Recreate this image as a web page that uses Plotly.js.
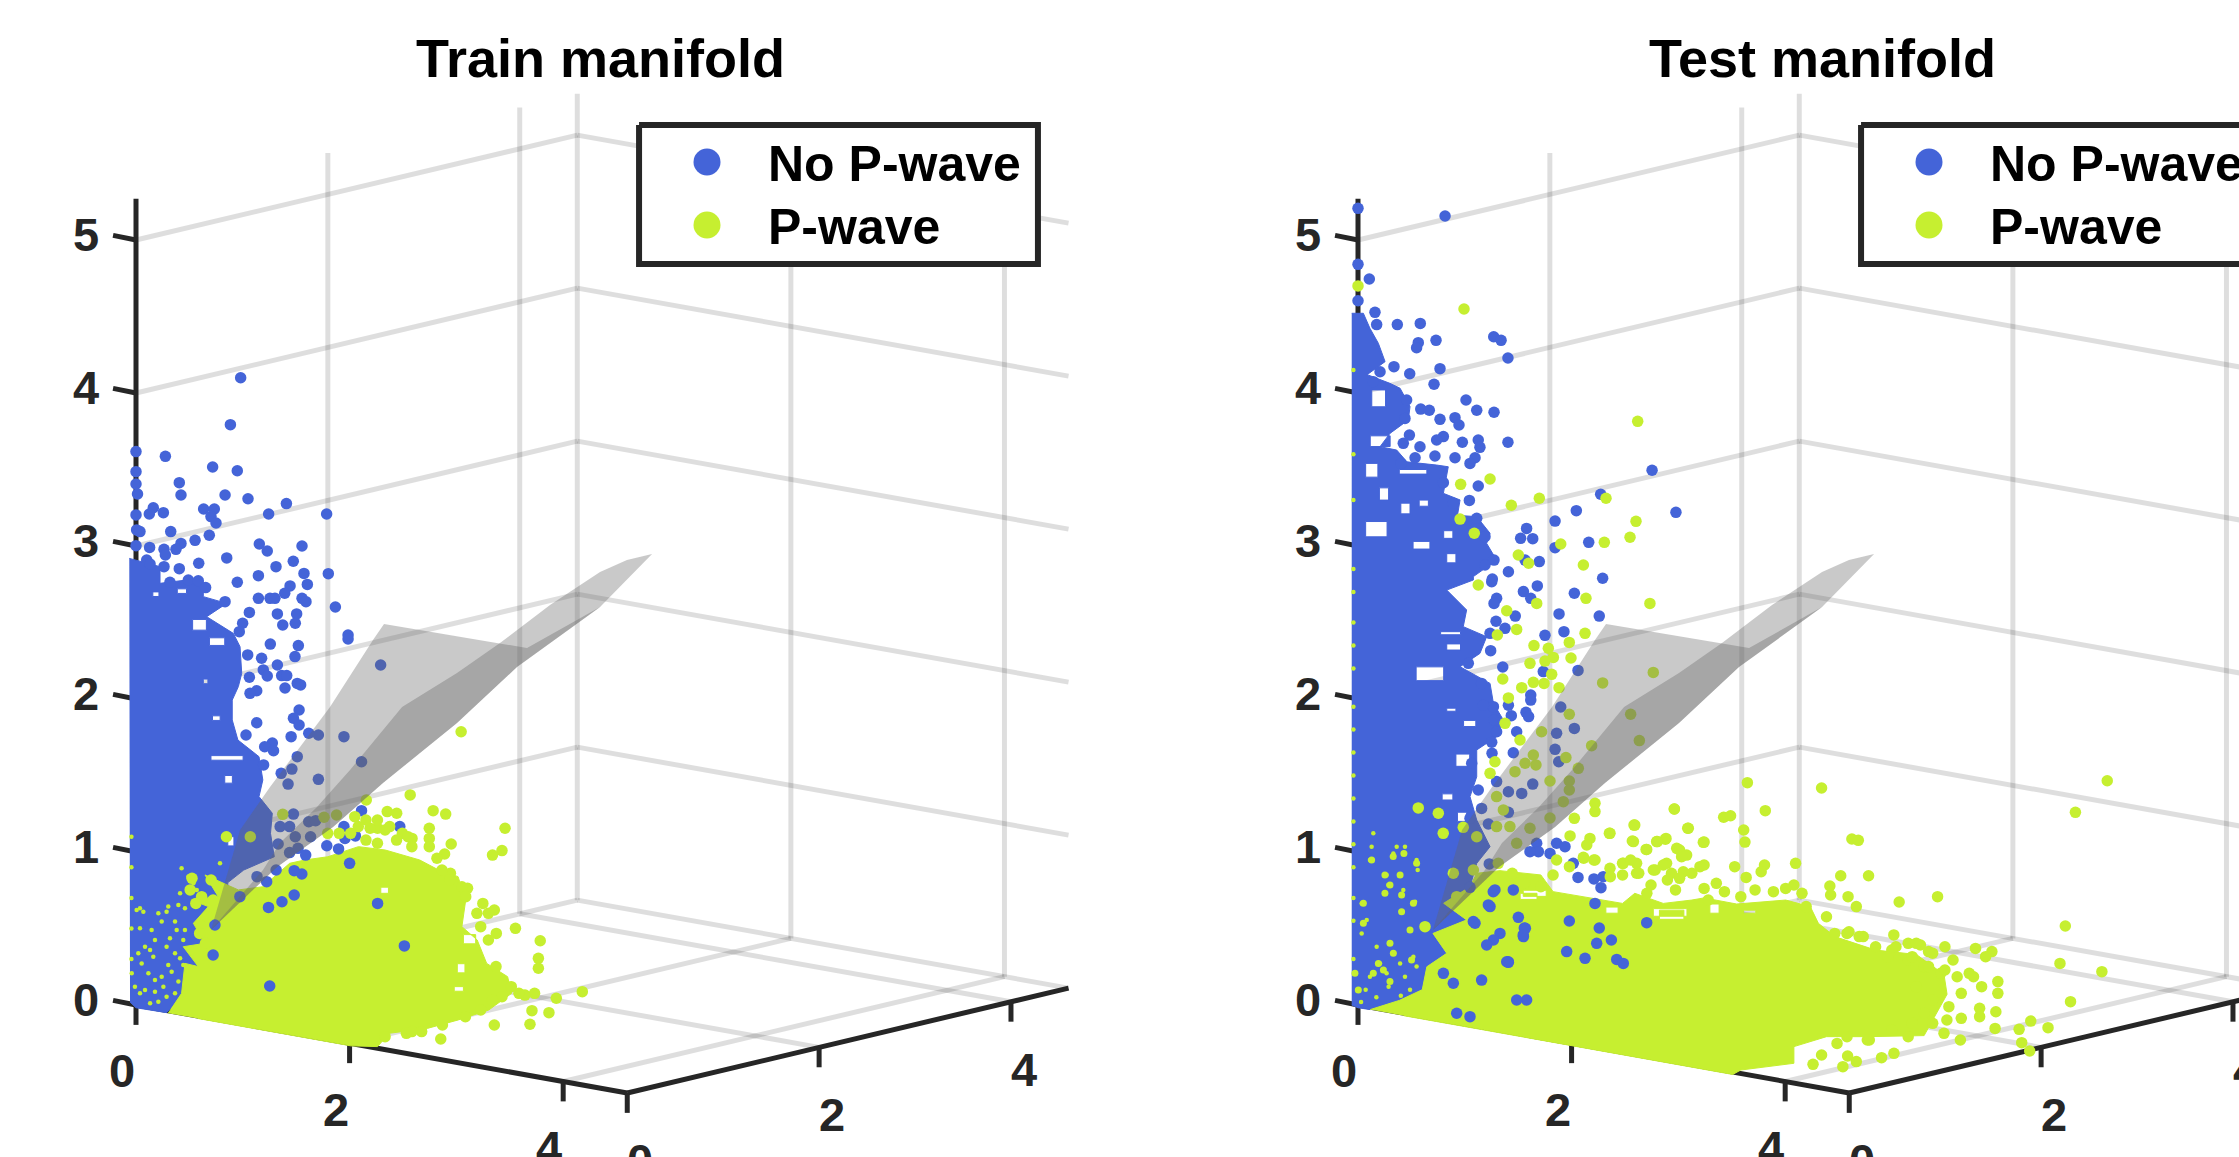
<!DOCTYPE html>
<html><head><meta charset="utf-8">
<script src="https://cdn.plot.ly/plotly-3.0.1.min.js"></script>
<style>html,body{margin:0;padding:0;background:#fff;overflow:hidden;width:2239px;height:1157px}#g{width:2400px;height:1300px}</style>
</head><body><div id="g"></div>
<script>
// All scatter values as [horizontal, vertical] in the plane of the view,
// measured in z-axis units from the foot of the vertical axis.
const titles = ["Train manifold", "Test manifold"];
const legendNames = ["No P-wave", "P-wave"];
const xTicks = [0, 2, 4], yTicks = [0, 2, 4], zTicks = [0, 1, 2, 3, 4, 5];
const blueColor = "#4464d8", greenColor = "#c6ef30";

const trainBlueRegion = [[-.044,2.919],[.157,2.865],[.157,2.756],[.331,2.778],[.44,2.767],[.44,2.669],[.593,2.625],[.462,2.538],[.636,2.429],[.68,2.342],[.691,2.168],[.669,2.081],[.629,1.993],[.629,1.863],[.666,1.732],[.804,1.623],[.829,1.471],[.804,1.362],[.891,1.253],[.879,1.122],[.904,.969],[.704,.882],[.6,.8],[.6,.6],[.55,.4],[.5,.25],[.35,.1],[.2,-.05],[0,-.018],[-.039,.02]];
const trainBlueGaps = [[.27,2.72,.33,2.69],[.37,2.52,.46,2.45],[.48,2.4,.58,2.35],[.11,2.7,.15,2.67],[.49,1.63,.7,1.6],[.58,1.5,.63,1.45],[.5,1.89,.55,1.86],[.44,2.13,.47,2.1],[.6,1.1,.64,1.04]];
const trainGreenRegion = [[.211,-.054],[.298,.076],[.32,.272],[.407,.251],[.309,.381],[.451,.403],[.375,.534],[.473,.643],[.364,.686],[.538,.708],[.451,.85],[.669,.752],[.829,.773],[1.004,.926],[1.104,.948],[1.254,.969],[1.454,1.035],[1.629,1.013],[1.854,.948],[1.979,.882],[2.105,.839],[2.155,.686],[2.13,.512],[2.23,.425],[2.292,.272],[2.429,.185],[2.455,.076],[2.305,-.033],[2.105,-.098],[1.904,-.153],[1.654,-.185],[1.579,-.272],[1.404,-.267],[.904,-.178],[.629,-.129],[.404,-.088]];
const trainGreenGaps = [[2.1,.27,2.15,.21],[1.6,.77,1.65,.73],[2.08,.12,2.14,.09],[2.14,.46,2.22,.4]];
const trainBluePoints = [[.684,4.1],[.617,3.793],[.192,3.586],[0,3.617],[0,3.486],[0,3.405],[.01,3.34],[.501,3.516],[.662,3.492],[.283,3.414],[.294,3.333],[.582,3.333],[.732,3.309],[.983,3.277],[.113,3.25],[.179,3.218],[.087,3.209],[.442,3.242],[.512,3.242],[.49,3.192],[.523,3.15],[.867,3.209],[1.246,3.209],[0,3.203],[.004,3.105],[.227,3.094],[.026,3.094],[.479,3.07],[.386,3.037],[.294,3.017],[.261,2.978],[.089,2.991],[.183,2.978],[.192,2.941],[0,3.002],[.806,3.013],[.858,2.967],[1.085,3],[.593,2.922],[.41,2.887],[.283,2.852],[.07,2.908],[.092,2.882],[.183,2.865],[1.028,2.9],[.915,2.865],[.8,2.806],[1.098,2.821],[1.257,2.819],[.662,2.763],[1.12,2.749],[1.007,2.739],[.972,2.691],[.8,2.658],[.876,2.658],[.908,2.658],[1.085,2.658],[1.111,2.636],[1.303,2.601],[.924,2.556],[1.05,2.556],[1.041,2.495],[.959,2.484],[.741,2.566],[.697,2.495],[.675,2.44],[1.386,2.418],[1.386,2.392],[.878,2.359],[1.061,2.349],[1.599,2.222],[1.039,2.277],[.924,2.222],[.821,2.266],[.73,2.288],[.832,2.19],[.858,2.15],[.952,2.153],[.985,2.153],[.741,2.142],[.974,2.072],[1.054,2.102],[1.076,2.092],[.789,2.054],[.745,2.037],[.342,2.778],[.407,2.773],[.222,2.763],[.455,2.728],[.582,2.636],
[1.066,1.928],[1.029,1.874],[1.066,1.83],[.789,1.845],[.719,1.765],[1.014,1.754],[1.129,1.776],[1.192,1.765],[1.359,1.754],[.891,1.712],[.841,1.688],[.899,1.662],[1.054,1.623],[.834,1.569],[1.019,1.542],[.949,1.514],[1.474,1.59],[1.192,1.475],[.994,1.444],[1.474,1.27],[1.029,1.248],[1.724,1.166],[1.359,1.166],[.942,1.166],[1.004,1.166],[1.129,1.198],[1.174,1.205],[1.041,1.1],[1.141,1.1],[.929,1.052],[1.004,.996],[1.059,1.024],[1.109,.98],[1.247,1.041],[1.324,1.02],[1.366,1.089],[1.434,1.105],[1.396,.926],[.916,.882],[.791,.839],[.854,.806],[1.084,.856],[1.034,.878],[1.579,.664],[1.034,.719],[.954,.675],[.866,.638],[1.754,.386],[.874,.124],[.679,.708],[.516,.523],[.504,.327]];
const trainGreenPoints = [[2.125,1.786],[1.792,1.373],[1.942,1.27],[2.024,1.248],[1.642,1.264],[1.704,1.253],[1.917,1.155],[2.412,1.155],[1.917,1.089],[1.917,1.035],[2.06,1.052],[2.392,1.009],[2.33,.98],[2.017,.987],[1.967,.959],[1.579,1.155],[1.505,1.34],[1.43,1.231],[1.311,1.242],[1.229,1.227],[.959,1.246],[.591,1.1],[.747,1.1],[2.48,.501],[2.642,.42],[2.63,.305],[2.63,.24],[2.917,.087],[2.747,.044],[2.605,.076],[2.699,-.05],[2.588,-.037],[2.575,-.126],[2.342,-.131],[1.992,-.222],[1.867,-.174],[1.767,-.185],[2.542,.065],[2.392,.054],[2.355,.468],[2.267,.664],[2.342,.621],[2.167,.763],[2.055,.861],[1.804,1.089],[1.741,1.122],[1.658,1.166],[1.53,1.155],[.366,.828],[.354,.752],[.429,.708],[.491,.817],[.504,.686],[.391,.664],[.466,.577],[.579,.643],[.416,.468],[.454,.403],
[1.503,1.209],[1.578,1.209],[1.628,1.144],[1.703,1.078],[1.778,1.1],[1.803,1.035],[1.453,1.166],[1.403,1.122],[1.503,1.078],[1.578,1.057],[1.328,1.122],[1.253,1.122],[2,.882],[2.05,.817],[2.13,.773],[2.155,.708],[2.228,.599],[2.303,.599],[2.253,.512],[2.303,.425],[2.353,.251],[2.453,.12],[2.503,.076],[2.33,.033],[2.253,-.033],[2.153,-.076],[2.003,-.131],[1.803,-.174],[1.628,-.207]];
const trainGreenSpecks = [[.146,.599],[.168,.545],[.211,.643],[.2,.61],[.255,.545],[.266,.49],[.32,.49],[.309,.425],[.102,.49],[.124,.425],[.026,.501],[.059,.381],[.092,.359],[.113,.316],[.015,.338],[.037,.272],[.081,.207],[-.028,.207],[-.007,.12],[.026,.076],[.124,.163],[.168,.185],[.211,.261],[.255,.338],[.288,.305],[.309,.261],[.233,.218],[.277,.153],[.179,.12],[.124,.087],[.2,.054],[.146,.022],[.255,.076],[.092,.011],[.059,.098],[.004,.621],[.026,.632],[.048,.61],[.2,.381],[.222,.436],[.277,.654],[.32,.632],[.288,.73],[.298,.893],[.342,.839],[.375,.795],[.397,.752],[.549,.926],[-.03,.3],[-.03,.5],[-.03,.7],[-.03,.9],[-.03,1.1]];
const trainGreenBlobs = [];

const testBlueRegion = [[-.041,4.521],[.035,4.521],[.078,4.423],[.133,4.325],[.177,4.205],[.06,4.12],[.209,4.063],[.275,4.031],[.34,3.911],[.329,3.824],[.209,3.736],[.144,3.649],[.253,3.627],[.32,3.55],[.514,3.529],[.59,3.518],[.558,3.344],[.667,3.301],[.65,3.2],[.776,3.192],[.863,3.083],[.841,3.017],[.906,2.908],[.754,2.8],[.754,2.778],[.58,2.712],[.71,2.582],[.688,2.473],[.841,2.407],[.797,2.298],[.667,2.211],[.863,2.102],[.885,1.972],[.95,1.863],[.906,1.754],[.776,1.667],[.776,1.492],[.732,1.362],[.776,1.209],[.863,1.035],[.776,.926],[.732,.773],[.56,.665],[.71,.556],[.49,.468],[.58,.338],[.45,.25],[.42,.1],[.27,.03],[.08,-.03],[0,-.018],[-.041,0]];
const testBlueGaps = [[.09,4.02,.18,3.91],[.08,3.72,.21,3.65],[.05,3.54,.13,3.45],[.27,3.5,.45,3.47],[.28,3.28,.34,3.21],[.05,3.16,.19,3.06],[.36,3.03,.47,2.98],[.58,2.95,.64,2.89],[.38,2.21,.56,2.12],[.54,2.44,.67,2.42],[.58,2.36,.67,2.32],[.58,1.94,.64,1.92],[.69,1.86,.77,1.82],[.64,1.64,.73,1.56],[.55,1.38,.62,1.34],[.65,1.26,.71,1.2],[.14,3.38,.2,3.3],[.4,3.3,.46,3.26],[.56,3.1,.62,3.05]];
const testGreenRegion = [[.08,-.03],[.27,.03],[.42,.1],[.45,.25],[.58,.338],[.49,.468],[.71,.556],[.56,.665],[.732,.773],[.776,.861],[.928,.878],[1.195,.85],[1.275,.741],[1.595,.686],[1.729,.664],[1.809,.73],[1.995,.664],[2.182,.686],[2.262,.7],[2.475,.66],[2.795,.686],[2.956,.643],[3.009,.534],[3.116,.447],[3.383,.359],[3.65,.33],[3.83,.2],[3.85,.07],[3.78,-.06],[3.7,-.2],[3.329,-.207],[3.062,-.207],[2.849,-.272],[2.849,-.381],[2.502,-.425],[2.449,-.454],[.8,-.159],[.3,-.07]];
const testGreenGaps = [[1.97,.62,2.13,.56],[1.06,.73,1.17,.69],[1.08,.75,1.23,.71],[1.93,.63,2.15,.58],[2.3,.66,2.36,.6],[1.62,.64,1.7,.6],[2.52,.62,2.6,.6]];
const testBluePoints = [[0,5.207],[.569,5.157],[0,4.841],[.074,4.745],[0,4.603],[.111,4.527],[.122,4.447],[.257,4.447],[.407,4.455],[.394,4.329],[.383,4.296],[.51,4.344],[.887,4.368],[.935,4.344],[.98,4.229],[.235,4.172],[.338,4.126],[.536,4.159],[.497,4.057],[.1,4.074],[.144,4.139],[.706,3.954],[.776,3.887],[.889,3.874],[.41,3.895],[.466,3.887],[.536,3.828],[.634,3.839],[.66,3.791],[.682,3.678],[.786,3.693],[.797,3.645],[.98,3.678],[.558,3.715],[.514,3.693],[.503,3.588],[.634,3.577],[.765,3.577],[.732,3.54],[.405,3.649],[.373,3.577],[.336,3.725],[.296,3.671],[.281,3.54],[.318,3.954],[.307,3.834],[.558,3.414],[.786,3.392],[.728,3.298],[.623,3.279],[1.922,3.495],[1.586,3.338],[1.427,3.231],[2.078,3.22],[1.288,3.163],[1.102,3.115],[1.063,3.05],[1.142,3.048],[1.508,3.024],[1.288,2.989],[1.185,2.898],[1.092,2.908],[.983,2.832],[.889,2.908],[.83,2.876],[.83,3.061],[1.599,2.789],[.878,2.784],[.776,3.181],
[.874,2.767],[1.172,2.739],[1.081,2.702],[1.129,2.658],[1.414,2.691],[.906,2.658],[.889,2.625],[1.028,2.542],[1.314,2.556],[1.577,2.542],[.902,2.508],[.961,2.462],[1.346,2.44],[1.222,2.416],[.863,2.429],[.867,2.316],[.721,2.233],[.946,2.209],[1.211,2.179],[1.438,2.187],[.808,2.102],[1.129,2.026],[1.129,1.993],[.983,1.959],[1.325,1.948],[1.098,1.913],[1.115,1.885],[1.002,1.891],[.885,1.95],[.819,1.959],[.889,1.863],[1.414,1.808],[1.037,1.786],[1.298,1.776],[.906,1.786],[.874,1.717],[.876,1.645],[1.015,1.649],[1.288,1.671],[1.312,1.59],[.743,1.58],[1.142,1.444],[1.07,1.383],[.906,1.46],[.786,1.405],[.983,1.394],[.983,1.259],[.852,1.183],[.808,1.285],[.732,1.22],[1.168,1.057],[1.179,1.002],[1.298,1.057],[1.353,1.035],[1.255,.991],[1.124,1.002],[1.407,.926],[1.438,.834],[1.542,.824],[1.603,.839],[1.588,.767],[.858,.922],[.732,.769],[.895,.752],[1.015,.752],[.863,.643],[1.048,.573],[1.381,.549],[.765,.534],[1.577,.503],[1.887,.538],[1.087,.503],[.928,.468],[.885,.425],[.841,.392],[1.081,.447],[1.656,.425],[1.56,.403],[1.364,.349],[1.691,.298],[1.734,.272],[1.484,.305],[.983,.279],[1.549,.664],[1.094,.501],[.982,.283],[.884,.74],[.754,.545],[.852,.654],[1.08,.458],[.808,.163],[.972,.283],[.623,.142],[.558,.207],[1.102,.033],[1.037,.033],[.645,-.054],[.732,-.076]];
const testGreenPoints = [[0,4.7],[.693,4.549],[1.828,3.815],[.671,3.403],[.863,3.438],[1.002,3.266],[1.185,3.312],[1.621,3.312],[.667,3.176],[.76,3.083],[1.817,3.161],[1.778,3.057],[1.61,3.024],[1.325,3.013],[1.048,2.941],[1.115,2.887],[1.473,2.876],
[1.49,2.658],[1.908,2.625],[.786,2.745],[1.168,2.625],[.972,2.577],[1.037,2.455],[1.484,2.429],[1.381,2.37],[1.15,2.349],[1.244,2.332],[.911,2.418],[1.124,2.233],[1.222,2.248],[1.277,2.272],[1.392,2.268],[1.93,2.174],[1.266,2.161],[.946,2.131],[1.146,2.109],[1.216,2.102],[1.599,2.105],[1.07,2.074],[1.314,2.074],[.983,2.007],[1.381,1.9],[1.782,1.9],[.961,1.841],[1.2,1.786],[1.527,1.695],[1.839,1.728],[1.059,1.732],[1.146,1.634],[1.092,1.58],[1.163,1.569],[1.359,1.617],[.895,1.59],[.863,1.514],[1.026,1.525],[1.44,1.547],[1.255,1.464],[1.381,1.464],[1.381,1.405],[1.342,1.329],[1.549,1.318],[1.549,1.264],[2.068,1.281],[1.255,1.222],[1.414,1.22],[1.804,1.176],[2.159,1.155],[1.647,1.122],[1.386,1.105],[1.516,1.089],[1.8,1.068],[2.013,1.089],[1.952,1.068],[2.257,1.063],[1.495,1.046],[1.887,1.017],[2.083,1.024],[2.148,.98],[1.473,.965],[1.549,.948],[1.298,.948],[1.734,.926],[1.821,.926],[2.017,.926],[2.235,.904],[1.647,.893],[1.93,.882],[1.821,.861],[2.126,.871],[.394,1.288],[.525,1.253],[.557,1.122],[.688,1.161],[.776,1.1],[.906,1.362],[.95,1.275],[.906,1.166],[.993,1.166],[1.124,1.155],[1.037,1.057],[.917,.926],[.754,.882],[.623,.861],[.645,.708],[.438,.512],
[4.897,1.466],[4.689,1.259],[3.03,1.418],[2.545,1.453],[2.067,1.281],[2.662,1.27],[2.39,1.227],[2.435,1.237],[2.155,1.155],[2.521,1.144],[2.529,1.065],[3.228,1.085],[3.27,1.076],[2.262,1.065],[1.809,1.176],[1.643,1.122],[1.793,1.072],[2.009,1.083],[1.956,1.068],[1.883,1.017],[2.102,1.013],[2.115,.969],[2.462,.904],[2.262,.915],[2.657,.915],[2.635,.871],[2.86,.926],[3.155,.845],[3.337,.845],[2.537,.834],[3.788,.708],[3.537,.673],[3.203,.708],[3.257,.643],[3.084,.778],[3.089,.719],[2.849,.784],[4.623,.516],[4.588,.272],[4.862,.218],[4.657,.022],[4.51,-.148],[4.397,-.105],[4.321,-.159],[4.338,-.246],[4.39,-.301],[4.164,-.153],[3.937,-.229],[3.83,-.185],[3.503,-.316],[3.422,-.344],[3.257,-.37],[3.2,-.333],[3.169,-.403],[3.03,-.327],[2.974,-.388],[3.131,-.251],[3.342,-.229],[4.143,.349],[4.036,.37],[3.836,.381],[4.102,.316],[4.182,.153],[4.182,.076],[4.169,-.044],[4.063,-.076],[3.943,-.087],[3.849,-.098],[3.995,.207],[3.889,.294],[3.676,.392],[3.502,.458],[3.276,.447],[3.209,.479],[3.596,.403],[3.729,.349],[3.702,.251],[3.596,.294],[3.809,.207],[3.489,.359],
[1.729,.926],[1.782,.948],[1.729,.85],[1.835,.861],[1.942,.882],[1.995,.915],[2.049,.861],[1.915,.784],[2.022,.817],[2.102,.828],[2.182,.861],[2.075,.752],[1.888,.73],[2.262,.762],[2.342,.795],[2.395,.741],[2.289,.686],[2.502,.708],[2.595,.752],[2.715,.741],[2.795,.762],[2.902,.73],[2.929,.643],[3.062,.577],[1.649,.839],[1.541,.948],[1.475,.959],[1.382,.904],[1.195,.773],[1.088,.795],[1.275,.85],[1.008,.861],
[3.116,.468],[3.196,.468],[3.302,.447],[3.383,.381],[3.463,.316],[3.516,.381],[3.622,.316],[3.649,.403],[3.756,.338],[3.729,.251],[3.836,.229],[3.916,.185],[4.023,.185],[4.076,.12],[3.943,.076],[3.862,-.011],[4.063,-.022],[3.756,.033],[3.649,.12],[3.702,-.054],[3.622,-.12],[3.756,-.12],[3.596,-.207],[3.489,-.163],[3.329,-.229],[3.196,-.207]];
const testGreenSpecks = [[.089,1.035],[.1,1.122],[.078,.948],[.231,.991],[.307,1.035],[.253,1.035],[.383,.948],[.39,.882],[.187,.85],[.198,.784],[.296,.752],[.024,.664],[.373,.675],[.057,.556],[.122,.381],[.024,.468],[.362,.316],[.144,.272],[.275,.272],[.383,.251],[.187,.207],[.078,.185],[.307,.185],[.05,.1],[.12,.05],[.2,.12],[.28,.06],[.34,.1],[.02,.02],[-.03,.3],[-.03,.55],[-.03,.7],[-.03,.9],[-.03,1.05],[-.03,1.2],[-.03,1.35],[-.03,1.5],[-.03,1.65],[-.03,1.8],[-.03,1.95],[-.03,2.2],[-.03,2.35],[-.03,2.5],[-.03,2.7],[-.03,2.85],[-.03,3.3],[-.03,3.6],[-.03,4.15]];
const testGreenBlobs = [[.275,.85],[.209,.784],[.176,.73],[.285,.719],[.362,.665],[.285,.61],[.34,.49],[.209,.403],[.231,.338],[.35,.294],[.133,.272],[.166,.229],[.209,.153],[.002,.098],[.035,.534],[.035,.665],[.383,.926],[.089,.948],[.176,.85],[-.02,.207],[.1,.207],[.23,.97],[.3,.99]];

const surfaceUpper = [[1.621,2.49],[2.379,2.366],[2.556,2.333],[3.033,2.601],[2.49,2.209],[2.098,1.843],[1.614,1.451],[1.288,1.163],[.922,.902],[.49,.49],[.68,1.144],[.876,1.425],[1.268,1.948],[1.549,2.386]];
const surfaceLower = [[3.373,2.948],[3.209,2.908],[3.033,2.83],[2.706,2.614],[2.379,2.366],[2.098,2.17],[1.739,1.948],[1.575,1.752],[1.399,1.536],[1.183,1.294],[.941,1.059],[.83,.882],[.49,.49],[.922,.902],[1.288,1.163],[1.614,1.451],[2.098,1.843],[2.49,2.209],[3.033,2.601]];

const maxXY = 4.6, maxZ = 5.27;
const proj = (x, y, z) => [0.698 * x + 0.627 * y, z - 0.125 * x + 0.149 * y];
const xs = p => p.map(a => a[0]), ys = p => p.map(a => a[1]);

const traces = [], annotations = [];
function build(i) {
  const xa = i ? "x2" : "x", ya = i ? "y2" : "y";
  const add = t => traces.push(Object.assign({xaxis: xa, yaxis: ya, showlegend: false, hoverinfo: "skip"}, t));
  const seg = (a, b, color, width) => { const p = proj(...a), q = proj(...b);
    add({type: "scatter", mode: "lines", x: [p[0], q[0]], y: [p[1], q[1]], line: {color, width}}); };
  const GRID = "rgba(0,0,0,0.13)", GW = 5;
  zTicks.forEach(z => { seg([0,0,z],[0,maxXY,z],GRID,GW); seg([0,maxXY,z],[maxXY,maxXY,z],GRID,GW); });
  yTicks.slice(1).concat([maxXY]).forEach(y => seg([0,y,0],[0,y,maxZ],GRID,GW));
  xTicks.slice(1).forEach(x => seg([x,maxXY,0],[x,maxXY,maxZ],GRID,GW));
  xTicks.slice(1).forEach(x => seg([x,0,0],[x,maxXY,0],GRID,GW));
  yTicks.slice(1).forEach(y => seg([0,y,0],[maxXY,y,0],GRID,GW));

  // axes and ticks lie beneath the point cloud
  const AX = "#262626";
  seg([0,0,0],[0,0,maxZ],AX,5);
  seg([0,0,0],[maxXY,0,0],AX,5);
  seg([maxXY,0,0],[maxXY,maxXY,0],AX,5);
  const note = (text, x, y, size, color, anchor) => annotations.push({xref: xa, yref: ya, x, y, text, showarrow: false, xanchor: anchor || "center", yanchor: "middle",
     font: {family: "Liberation Sans, Arial, sans-serif", size, color, weight: 700}});
  zTicks.forEach(z => { const p = proj(0,0,z); 
    add({type: "scatter", mode: "lines", x: [p[0], p[0]-0.15], y: [p[1], p[1]+0.03], line: {color: AX, width: 5}});
    note(String(z), p[0]-0.327, p[1]+0.033, 47, AX); });
  xTicks.forEach(x => { const p = proj(x,0,0);
    add({type: "scatter", mode: "lines", x: [p[0], p[0]], y: [p[1], p[1]-0.13], line: {color: AX, width: 5}});
    note(String(x), p[0]-0.09, p[1]-0.43, 47, AX); });
  yTicks.forEach(y => { const p = proj(maxXY,y,0);
    add({type: "scatter", mode: "lines", x: [p[0], p[0]], y: [p[1], p[1]-0.13], line: {color: AX, width: 5}});
    note(String(y), p[0]+0.085, p[1]-0.44, 47, AX); });

  const region = (pts, gaps, color) => {
    const X = xs(pts), Y = ys(pts);
    gaps.forEach(g => { X.push(null, g[0], g[0], g[2], g[2], g[0]); Y.push(null, g[1], g[3], g[3], g[1], g[1]); });
    add({type: "scatter", mode: "lines", x: X, y: Y, fill: "toself", fillcolor: color, line: {color, width: 1}});
  };
  const dots = (pts, color, size) => add({type: "scatter", mode: "markers", x: xs(pts), y: ys(pts), marker: {color, size, symbol: "circle", line: {width: 0}}});
  const d = i ? {br: testBlueRegion, bg: testBlueGaps, gr: testGreenRegion, gg: testGreenGaps, bp: testBluePoints, gp: testGreenPoints, gs: testGreenSpecks, gb: testGreenBlobs}
              : {br: trainBlueRegion, bg: trainBlueGaps, gr: trainGreenRegion, gg: trainGreenGaps, bp: trainBluePoints, gp: trainGreenPoints, gs: trainGreenSpecks, gb: trainGreenBlobs};
  region(d.br, d.bg, blueColor);
  region(d.gr, d.gg, greenColor);
  dots(d.bp, blueColor, 11.5);
  dots(d.gp, greenColor, 11.5);
  dots(d.gb, greenColor, 7);
  dots(d.gs, greenColor, 4.5);
  [surfaceUpper, surfaceLower].forEach(s => add({type: "scatter", mode: "lines", x: xs(s), y: ys(s), fill: "toself", fillcolor: "rgba(100,100,100,0.35)", line: {width: 0}}));

  // legend box, keys and labels
  const L = 3.288, R = 5.895, T = 5.752, B = 4.843;
  add({type: "scatter", mode: "lines", x: [L,R,R,L,L], y: [T,T,B,B,T], fill: "toself", fillcolor: "#fff", line: {color: AX, width: 6}});
  [[blueColor, 5.51, legendNames[0]], [greenColor, 5.098, legendNames[1]]].forEach(k => {
    add({type: "scatter", mode: "markers", x: [3.732], y: [k[1]], marker: {color: k[0], size: 27, line: {width: 0}}});
    note(k[2], 4.115, k[1]-0.01, 50, "#000", "left");
  });
  note(titles[i], 3.037, 6.19, 54, "#000");
}
build(0); build(1);

const yR = [(1005-1300)/153, 1005/153], xR = [-136/153, (1100-136)/153];
const off = {showgrid:false, zeroline:false, showticklabels:false, ticks:"", showline:false, fixedrange:true};
Plotly.newPlot("g", traces, {
  width: 2400, height: 1300, margin: {l:0, r:0, t:0, b:0}, paper_bgcolor: "#fff", plot_bgcolor: "#fff", showlegend: false,
  xaxis: Object.assign({domain:[0,1100/2400], range:xR, anchor:"y"}, off),
  yaxis: Object.assign({domain:[0,1], range:yR, anchor:"x"}, off),
  xaxis2: Object.assign({domain:[1222/2400,2322/2400], range:xR, anchor:"y2"}, off),
  yaxis2: Object.assign({domain:[0,1], range:yR, anchor:"x2"}, off),
  annotations
}, {staticPlot:true, displayModeBar:false});
</script></body></html>
